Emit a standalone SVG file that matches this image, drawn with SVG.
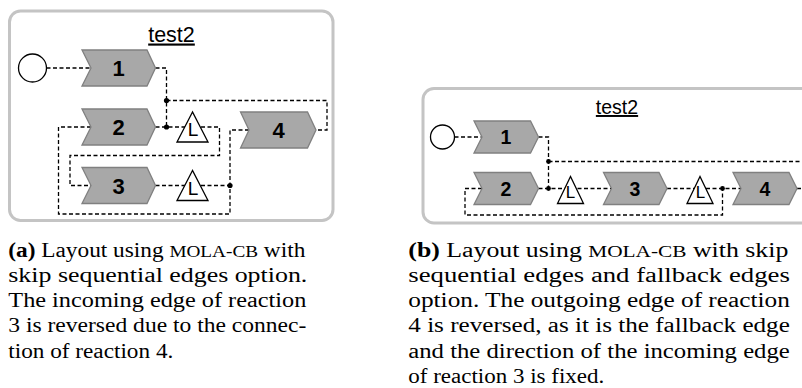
<svg xmlns="http://www.w3.org/2000/svg" width="802" height="388" viewBox="0 0 802 388">
<style>
.box{fill:#fff;stroke:#c4c4c4;stroke-width:3}
.title{font-family:"Liberation Sans",Arial,sans-serif;text-anchor:middle;text-decoration:underline;fill:#000}
.start{fill:#fff;stroke:#000;stroke-width:1.3}
.rx{fill:#a8a8a8;stroke:#808080;stroke-width:1.3}
.num{font-family:"Liberation Sans",Arial,sans-serif;font-weight:bold;text-anchor:middle;fill:#000}
.edge{fill:none;stroke:#000;stroke-width:1.3;stroke-dasharray:4 2.5}
.dot{fill:#000}
.tri{fill:#fff;stroke:#000;stroke-width:1.3}
.lbl{font-family:"Liberation Sans",Arial,sans-serif;text-anchor:middle;fill:#000}
.cap{font-family:"Liberation Serif","Times New Roman",serif;font-size:20px;fill:#000}
.b{font-weight:bold}
.sc{font-size:16.5px}
</style>
<!-- Panel (a) -->
<rect class="box" x="9.5" y="11" width="323.5" height="209.5" rx="11"/>
<text class="title" x="171.5" y="41.5" font-size="21.5">test2</text>
<g id="connectors-a">
<path class="edge" d="M46.5,68 H91"/>
<path class="edge" d="M155.5,68 H166.5 V127"/>
<path class="edge" d="M166.5,100.5 H327 V130 H316"/>
<path class="edge" d="M155.5,127 H219.5 V155.5 H70 V185.5 H91"/>
<path class="edge" d="M91,127 H58.5 V214 H230 V130 H249"/>
<path class="edge" d="M155.5,185.5 H230"/>
<circle class="dot" cx="166.5" cy="100.5" r="2.6"/>
<circle class="dot" cx="166.5" cy="127" r="2.6"/>
<circle class="dot" cx="230" cy="185.5" r="2.6"/>
</g>
<g id="a-start"><circle class="start" cx="32.5" cy="68" r="14"/></g>
<g id="a-r1"><polygon class="rx" points="82,50 147,50 155.5,68 147,86 82,86 91,68"/><text class="num" x="118.5" y="76" font-size="22">1</text></g>
<g id="a-r2"><polygon class="rx" points="82,109 147,109 155.5,127 147,145 82,145 91,127"/><text class="num" x="118.5" y="135" font-size="22">2</text></g>
<g id="a-r3"><polygon class="rx" points="82,167.5 147,167.5 155.5,185.5 147,203.5 82,203.5 91,185.5"/><text class="num" x="118.5" y="193.5" font-size="22">3</text></g>
<g id="a-r4"><polygon class="rx" points="240.5,112 307.5,112 316,130 307.5,148 240.5,148 249,130"/><text class="num" x="278.5" y="138" font-size="22">4</text></g>
<g id="a-l1"><polygon class="tri" points="192.5,112 177,142 208,142"/><text class="lbl" x="193" y="136" font-size="19">L</text></g>
<g id="a-l2"><polygon class="tri" points="192.5,170.5 177,200.5 208,200.5"/><text class="lbl" x="193" y="194.5" font-size="19">L</text></g>

<!-- Panel (b) -->
<rect class="box" x="423" y="88.5" width="420" height="134.5" rx="11"/>
<text class="title" x="617" y="114" font-size="19.5">test2</text>
<g id="connectors-b">
<path class="edge" d="M454.5,137 H482"/>
<path class="edge" d="M538.5,137 H548.5 V188.5"/>
<path class="edge" d="M548.5,161.5 H810"/>
<path class="edge" d="M538.5,188.5 H611.5"/>
<path class="edge" d="M667,188.5 H741"/>
<path class="edge" d="M797,188.5 H810"/>
<path class="edge" d="M482,188.5 H465 V215 H722.5 V188.5"/>
<circle class="dot" cx="548.5" cy="161.5" r="2.4"/>
<circle class="dot" cx="548.5" cy="188.5" r="2.4"/>
<circle class="dot" cx="722.5" cy="188.5" r="2.4"/>
</g>
<g id="b-start"><circle class="start" cx="442.5" cy="137" r="12"/></g>
<g id="b-r1"><polygon class="rx" points="474,121 530.5,121 538.5,137 530.5,153 474,153 482,137"/><text class="num" x="506" y="144" font-size="19.5">1</text></g>
<g id="b-r2"><polygon class="rx" points="474,172.5 530.5,172.5 538.5,188.5 530.5,204.5 474,204.5 482,188.5"/><text class="num" x="506" y="195.5" font-size="19.5">2</text></g>
<g id="b-r3"><polygon class="rx" points="603.5,172.5 659,172.5 667,188.5 659,204.5 603.5,204.5 611.5,188.5"/><text class="num" x="635" y="195.5" font-size="19.5">3</text></g>
<g id="b-r4"><polygon class="rx" points="733,172.5 789,172.5 797,188.5 789,204.5 733,204.5 741,188.5"/><text class="num" x="765" y="195.5" font-size="19.5">4</text></g>
<g id="b-l1"><polygon class="tri" points="570.5,176.5 557.5,203.5 583.5,203.5"/><text class="lbl" x="570.5" y="197.5" font-size="17">L</text></g>
<g id="b-l2"><polygon class="tri" points="700,176.5 687,203.5 713,203.5"/><text class="lbl" x="700.5" y="197.5" font-size="17">L</text></g>

<!-- Captions -->
<text class="cap" x="8.3" y="256.5" textLength="297" lengthAdjust="spacingAndGlyphs"><tspan class="b">(a)</tspan> Layout using <tspan class="sc">MOLA-CB</tspan> with</text>
<text class="cap" x="8.3" y="281.8" textLength="299" lengthAdjust="spacingAndGlyphs">skip sequential edges option.</text>
<text class="cap" x="8.3" y="307" textLength="298" lengthAdjust="spacingAndGlyphs">The incoming edge of reaction</text>
<text class="cap" x="8.3" y="332.3" textLength="298" lengthAdjust="spacingAndGlyphs">3 is reversed due to the connec-</text>
<text class="cap" x="8.3" y="357.5" textLength="165" lengthAdjust="spacingAndGlyphs">tion of reaction 4.</text>

<text class="cap" x="408.3" y="256.5" textLength="380" lengthAdjust="spacingAndGlyphs"><tspan class="b">(b)</tspan> Layout using <tspan class="sc">MOLA-CB</tspan> with skip</text>
<text class="cap" x="408.3" y="281.8" textLength="381.5" lengthAdjust="spacingAndGlyphs">sequential edges and fallback edges</text>
<text class="cap" x="408.3" y="307" textLength="381.5" lengthAdjust="spacingAndGlyphs">option. The outgoing edge of reaction</text>
<text class="cap" x="408.3" y="332.3" textLength="381.5" lengthAdjust="spacingAndGlyphs">4 is reversed, as it is the fallback edge</text>
<text class="cap" x="408.3" y="357.5" textLength="381.5" lengthAdjust="spacingAndGlyphs">and the direction of the incoming edge</text>
<text class="cap" x="408.3" y="382.8" textLength="196" lengthAdjust="spacingAndGlyphs">of reaction 3 is fixed.</text>
</svg>
